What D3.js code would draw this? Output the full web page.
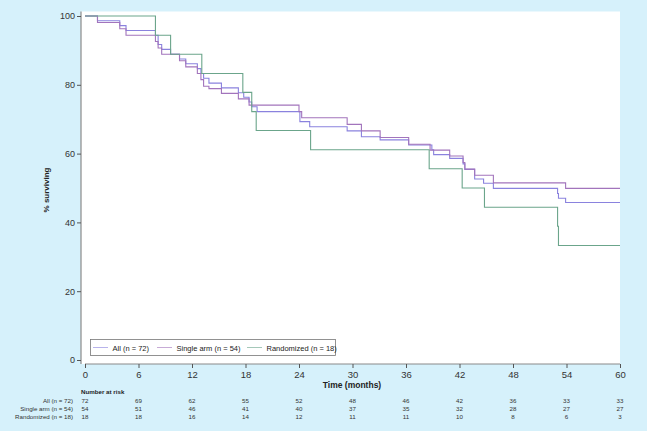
<!DOCTYPE html>
<html><head><meta charset="utf-8">
<script src="https://cdn.jsdelivr.net/npm/d3@7"></script>
<style>
html,body{margin:0;padding:0;background:#d6f1fb;}
svg{display:block;font-family:"Liberation Sans",Arial,Helvetica,sans-serif;}
</style></head>
<body><svg id="c" width="647" height="431"></svg>
<script>
// ---- data ----
const xTicks = [0, 6, 12, 18, 24, 30, 36, 42, 48, 54, 60];
const yTicks = [0, 20, 40, 60, 80, 100];
const seriesNames = ["All (n = 72)", "Single arm (n = 54)", "Randomized (n = 18)"];

const allTimes = [0, 1.4, 3.9, 4.6, 7.9, 8.2, 8.6, 9.6, 10.6, 11.3, 12.6, 13.0, 13.3, 13.9, 15.3, 17.2, 17.8, 18.4, 18.7, 19.3, 24.1, 25.2, 29.4, 31.0, 33.1, 36.3, 38.9, 39.1, 40.9, 42.4, 42.6, 43.7, 44.7, 45.8, 53.0, 53.1, 53.9, 60];
const allSurv  = [100, 98.6, 97.2, 95.8, 94.4, 91.7, 90.3, 88.9, 87.5, 86.1, 84.7, 83.3, 81.9, 80.5, 79.1, 77.7, 76.4, 75.0, 73.6, 72.2, 69.3, 67.8, 66.6, 64.9, 64.0, 62.5, 61.1, 59.7, 58.6, 57.0, 55.4, 52.6, 51.4, 49.9, 48.4, 47.0, 45.8, 45.8];

const singleTimes = [0, 1.4, 3.9, 4.6, 7.9, 8.2, 8.6, 10.6, 11.3, 12.6, 13.0, 13.3, 13.9, 15.3, 17.2, 18.4, 24.0, 24.3, 29.4, 31.0, 33.1, 36.3, 38.7, 40.9, 42.4, 42.6, 43.7, 45.8, 53.9, 60];
const singleSurv  = [100, 98.1, 96.3, 94.4, 92.6, 90.7, 88.9, 87.0, 85.2, 83.3, 81.5, 79.6, 78.9, 77.5, 75.9, 74.1, 72.2, 70.4, 68.5, 66.6, 64.7, 62.7, 61.0, 59.3, 57.4, 55.5, 53.7, 51.5, 49.9, 49.9];

const randTimes = [0, 7.9, 9.6, 13.1, 17.7, 18.7, 19.2, 25.3, 38.6, 42.3, 44.8, 53.0, 53.1, 60];
const randSurv  = [100, 94.4, 88.9, 83.3, 77.8, 72.2, 66.7, 61.1, 55.6, 50.0, 44.4, 38.9, 33.3, 33.3];

const riskAll    = [72, 69, 62, 55, 52, 48, 46, 42, 36, 33, 33];
const riskSingle = [54, 51, 46, 41, 40, 37, 35, 32, 28, 27, 27];
const riskRand   = [18, 18, 16, 14, 12, 11, 11, 10, 8, 6, 3];

const colors = ["#8a82de", "#a274bc", "#6ba58b"];

// ---- drawing ----
const svg = d3.select("#c");
const x = d3.scaleLinear().domain([0, 60]).range([85, 620]);
const y = d3.scaleLinear().domain([0, 100]).range([360, 16]);

// plot panel
svg.append("rect").attr("x", 81).attr("y", 11.5).attr("width", 620 - 81).attr("height", 364 - 11.5).attr("fill", "#fff");

// y axis
const yAxis = svg.append("g").attr("transform", "translate(81,0)")
  .call(d3.axisLeft(y).tickValues(yTicks).tickSize(4).tickPadding(2));
yAxis.select(".domain").attr("d", "M0,11.5V364").attr("stroke", "#8a8a8a").attr("stroke-width", 1.2);
yAxis.selectAll(".tick line").attr("stroke", "#555");
yAxis.selectAll(".tick text").attr("font-size", 9).attr("fill", "#333").attr("font-family", "Liberation Sans, Arial, sans-serif");

// x axis
const xAxis = svg.append("g").attr("transform", "translate(0,364)")
  .call(d3.axisBottom(x).tickValues(xTicks).tickSize(4).tickPadding(3));
xAxis.select(".domain").attr("d", "M85,0H620").attr("stroke", "#8a8a8a").attr("stroke-width", 1.2);
xAxis.selectAll(".tick line").attr("stroke", "#555");
xAxis.selectAll(".tick text").attr("font-size", 9.5).attr("fill", "#333").attr("font-family", "Liberation Sans, Arial, sans-serif");

// axis titles
svg.append("text").attr("transform", "translate(49,190) rotate(-90)").attr("text-anchor", "middle")
  .attr("font-size", 8).attr("font-weight", "bold").attr("fill", "#222").text("% surviving");
svg.append("text").attr("x", 352).attr("y", 388).attr("text-anchor", "middle")
  .attr("font-size", 8.5).attr("font-weight", "bold").attr("fill", "#222").text("Time (months)");

// curves
const line = d3.line().x(d => x(d[0])).y(d => y(d[1])).curve(d3.curveStepAfter);
const series = [[allTimes, allSurv], [singleTimes, singleSurv], [randTimes, randSurv]];
series.forEach((s, i) => {
  const pts = s[0].map((t, k) => [t, s[1][k]]);
  svg.append("path").datum(pts).attr("d", line).attr("fill", "none")
    .attr("stroke", colors[i]).attr("stroke-width", 1.1);
});

// legend
const lg = svg.append("g");
lg.append("rect").attr("x", 90.5).attr("y", 339.5).attr("width", 245).attr("height", 16)
  .attr("fill", "#fff").attr("stroke", "#777").attr("stroke-width", 0.8);
const legX = [93, 157, 247];
seriesNames.forEach((n, i) => {
  lg.append("line").attr("x1", legX[i]).attr("x2", legX[i] + 15).attr("y1", 347.5).attr("y2", 347.5)
    .attr("stroke", colors[i]).attr("stroke-width", 1).attr("opacity", 0.6);
  lg.append("text").attr("x", legX[i] + 19.5).attr("y", 350.5).attr("font-size", 7.5).attr("fill", "#222").text(n);
});

// number at risk table
svg.append("text").attr("x", 81).attr("y", 394).attr("font-size", 6.2).attr("font-weight", "bold").attr("fill", "#222").text("Number at risk");
const rows = [riskAll, riskSingle, riskRand];
const rowY = [403, 411, 419];
rows.forEach((r, i) => {
  svg.append("text").attr("x", 73).attr("y", rowY[i]).attr("text-anchor", "end")
    .attr("font-size", 6.2).attr("fill", "#333").text(seriesNames[i]);
  svg.append("g").selectAll("text").data(r).join("text")
    .attr("x", (d, k) => x(xTicks[k])).attr("y", rowY[i]).attr("text-anchor", "middle")
    .attr("font-size", 6.2).attr("fill", "#333").text(d => d);
});
</script></body></html>
